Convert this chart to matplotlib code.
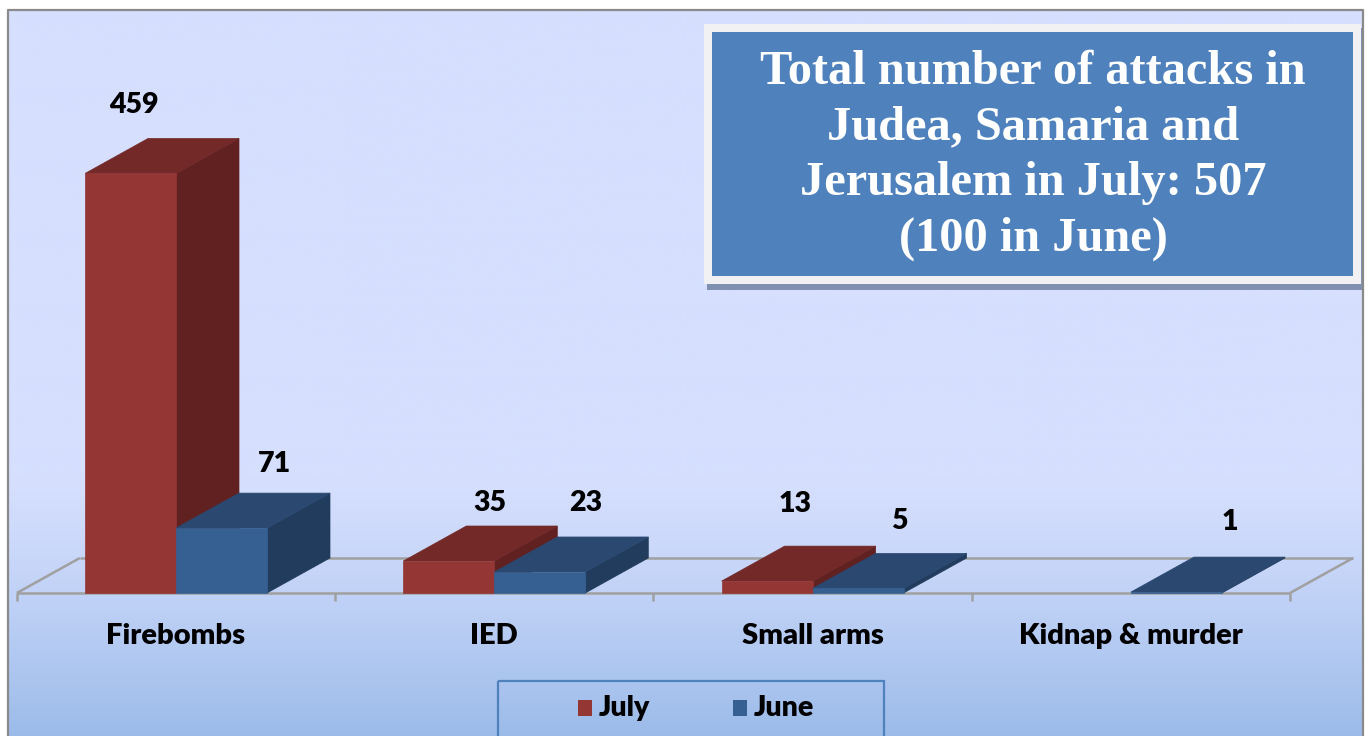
import numpy as np
import matplotlib
matplotlib.use('Agg')
import matplotlib.pyplot as plt
from matplotlib.patches import Polygon, Rectangle
from matplotlib.colors import to_rgb

# ---------------- data ----------------
categories = ['Firebombs', 'IED', 'Small arms', 'Kidnap & murder']
series_names = ['July', 'June']
july_values = [459, 35, 13, 0]
june_values = [71, 23, 5, 1]
title_lines = ['Total number of attacks in', 'Judea, Samaria and',
               'Jerusalem in July: 507', '(100 in June)']

# ---------------- style ----------------
front_cols = ['#943634', '#366092']
top_cols = ['#722928', '#2A4870']
side_cols = ['#622121', '#223C5E']
LFONT = 'Lato'
LWEIGHT = 'heavy'
# label offsets (pixels) relative to the centre of the bar's top face
label_offsets = [[(-28, 33), (10, 23), (-4, 42), (0, 0)],
                 [(21, 29), (14, 34), (10, 32), (22, 35)]]

W, H = 1370, 736
fig = plt.figure(figsize=(W / 100, H / 100), dpi=100)
fig.patch.set_facecolor('white')

# background / decoration axes in pixel coordinates
bg = fig.add_axes([0, 0, 1, 1])
bg.set_xlim(0, W)
bg.set_ylim(H, 0)
bg.axis('off')

top_c = np.array(to_rgb('#D6DFFE'))
bot_c = np.array(to_rgb('#9BBBE9'))
rows = np.arange(0, H + 5)
t = np.clip((rows - 470) / (H - 470), 0, 1) ** 1.3
grad = top_c[None, :] * (1 - t[:, None]) + bot_c[None, :] * t[:, None]
img = np.repeat(grad[:, None, :], 2, axis=1)
bg.imshow(img, extent=[8, 1363, H + 5, 10], aspect='auto', interpolation='bilinear', zorder=0)
bg.plot([8, 8, 1363, 1363], [H + 5, 10, 10, H + 5], color='#8A8A8A', lw=1.6, zorder=1)

# title box
bg.add_patch(Rectangle((707, 28), 655, 262, facecolor='#7F90B0', edgecolor='none', zorder=2))
bg.add_patch(Rectangle((704, 24), 657, 260, facecolor='#F1F1F3', edgecolor='none', zorder=3))
bg.add_patch(Rectangle((712, 32), 641, 244, facecolor='#4F81BD', edgecolor='none', zorder=4))
for k, line in enumerate(title_lines):
    bg.text(1033, 72 + 55.5 * k, line, color='white', fontsize=34.8, fontweight='bold',
            family='Liberation Serif', ha='center', va='center', zorder=5)

# legend box
bg.add_patch(Rectangle((498, 681), 386, 60, facecolor='none', edgecolor='#4F81BD', lw=1.6, zorder=2))
leg_x = [578, 733]
for k, name in enumerate(series_names):
    bg.add_patch(Rectangle((leg_x[k], 700), 14, 16, facecolor=front_cols[k], edgecolor='none', zorder=3))
    bg.text(leg_x[k] + 21, 708, name, fontsize=20.5, fontweight=LWEIGHT, family=LFONT,
            ha='left', va='center', color='black', zorder=3)

# ---------------- main chart axes ----------------
X0, STEP, BASE, PPU = 176, 318.3, 593, 0.914
ax = fig.add_axes([0, 0, 1, 1])
ax.patch.set_alpha(0)
ax.set_xlim(-X0 / STEP, (W - X0) / STEP)
ax.set_ylim(-(H - BASE) / PPU, BASE / PPU)
ax.axis('off')

DX, DY = 63 / STEP, 35 / PPU
BW = 91 / STEP
n = len(categories)

# floor
fl = dict(color='#A0A0A0', lw=1.8, zorder=1, solid_capstyle='butt')
ax.plot([-0.5, n - 0.5], [0, 0], **fl)
ax.plot([-0.5 + DX, n - 0.5 + DX], [DY, DY], **fl)
ax.plot([-0.5, -0.5 + DX], [0, DY], **fl)
ax.plot([n - 0.5, n - 0.5 + DX], [0, DY], **fl)
for b in np.arange(-0.5, n, 1.0):
    ax.plot([b, b], [0, -8 / PPU], **fl)

z = 2
for i in range(n):
    for s, vals in enumerate([july_values, june_values]):
        h = vals[i]
        if h <= 0:
            continue
        left = i - BW + s * BW
        ax.add_patch(Polygon([(left + BW, 0), (left + BW + DX, DY), (left + BW + DX, h + DY), (left + BW, h)],
                             closed=True, facecolor=side_cols[s], edgecolor=side_cols[s], lw=0.5, zorder=z))
        ax.add_patch(Polygon([(left, h), (left + BW, h), (left + BW + DX, h + DY), (left + DX, h + DY)],
                             closed=True, facecolor=top_cols[s], edgecolor=top_cols[s], lw=0.5, zorder=z + 0.1))
        ax.bar(left, h, width=BW, align='edge', color=front_cols[s], edgecolor=front_cols[s], lw=0.5, zorder=z + 0.2)
        z += 1
        ox, oy = label_offsets[s][i]
        ax.annotate(str(h), (left + BW / 2 + DX / 2, h + DY), xytext=(ox, oy), textcoords='offset pixels',
                    ha='center', va='center', fontsize=20.5, fontweight=LWEIGHT, family=LFONT, zorder=20)

for i, c in enumerate(categories):
    ax.text(i, -(636 - BASE) / PPU, c, ha='center', va='center', fontsize=21, fontweight=LWEIGHT,
            family=LFONT, zorder=20)

fig.savefig('out.png', dpi=100)
